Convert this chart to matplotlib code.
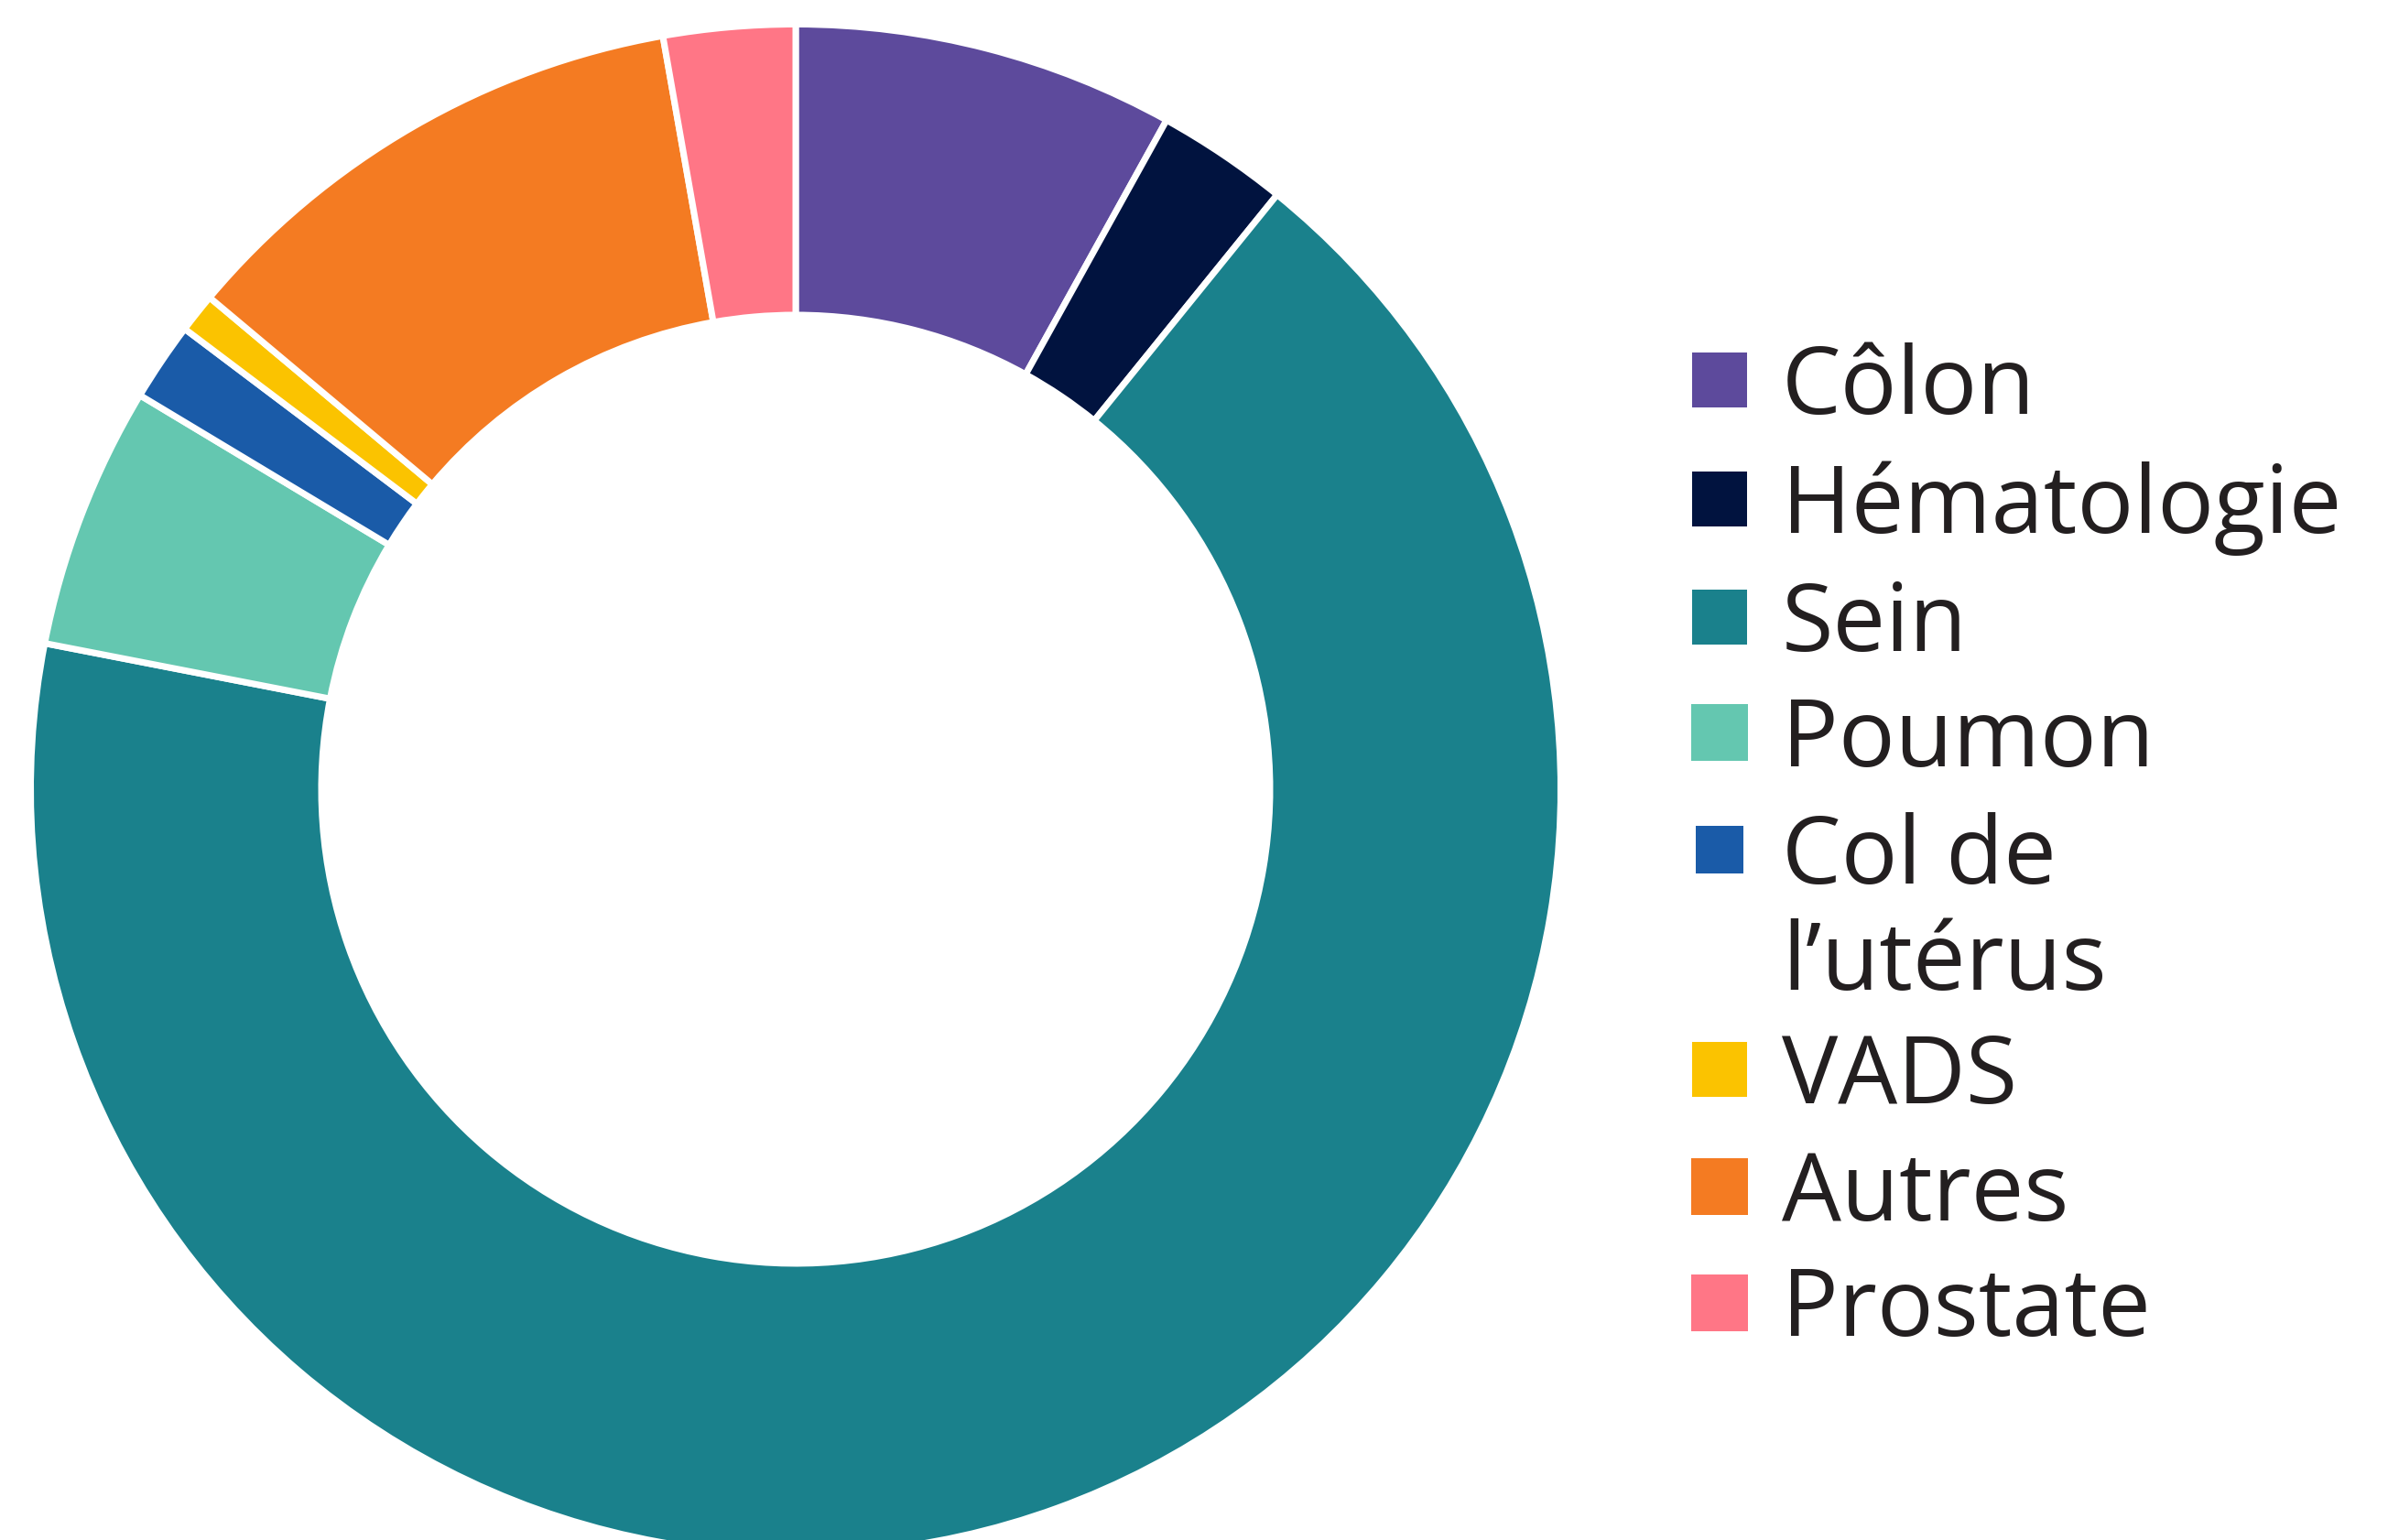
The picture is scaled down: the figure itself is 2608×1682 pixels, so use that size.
import matplotlib
matplotlib.use('Agg')
import matplotlib.pyplot as plt
from matplotlib.patches import Rectangle

categories = ['Côlon', 'Hématologie', 'Sein', 'Poumon', 'Col de\nl’utérus',
              'VADS', 'Autres', 'Prostate']
values = [29, 10, 242, 20, 6, 3, 40, 10]
colors = ['#5d4a9c', '#01133f', '#1a818c', '#64c7b0', '#1a5ba8',
          '#fbc300', '#f47b22', '#ff7686']

W, H = 2608, 1682
fig = plt.figure(figsize=(W / 100, H / 100), dpi=100)
ax = fig.add_axes([0, 0, 1, 1])

cx, cy = 869, H - 862
R_out, R_in = 832, 521.5
gap = 7
lw = gap * 72 / 100

ax.pie(values, colors=colors, startangle=90, counterclock=False,
       center=(cx, cy), radius=R_out + gap / 2,
       wedgeprops=dict(width=R_out - R_in + gap, edgecolor='white',
                       linewidth=lw))
ax.set_xlim(0, W)
ax.set_ylim(0, H)
ax.set_aspect('auto')
ax.axis('off')

# legend (manual)
rows_y = [415, 545, 674, 800, 928, 1168, 1296, 1423]
sq_sizes = [60, 60, 60, 62, 52, 60, 62, 62]
sq_x = 1878
text_x = 1946
cap = 73
line_gap = 117
for lab, col, yp, s in zip(categories, colors, rows_y, sq_sizes):
    yc = H - yp
    ax.add_patch(Rectangle((sq_x - s / 2, yc - s / 2), s, s,
                           facecolor=col, edgecolor='none'))
    for k, line in enumerate(lab.split('\n')):
        ax.text(text_x, yc - cap / 2 - k * line_gap, line, fontsize=74,
                family=['Open Sans', 'DejaVu Sans'], color='#231f20',
                va='baseline', ha='left')

fig.savefig('out.png', dpi=100, facecolor='white')
